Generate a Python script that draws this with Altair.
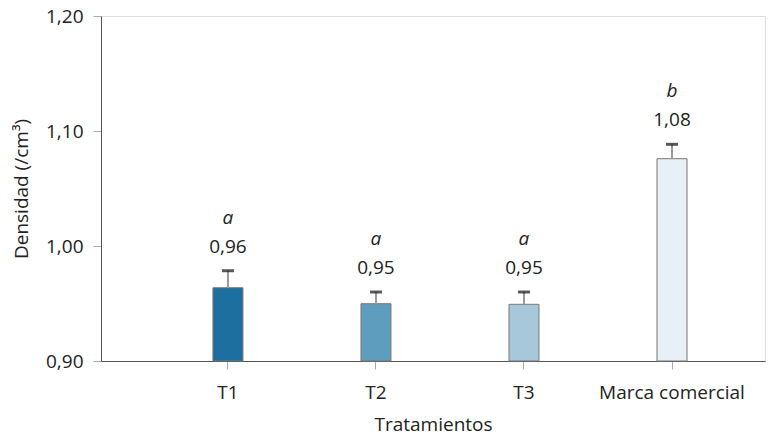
import altair as alt
import pandas as pd

categories = ["T1", "T2", "T3", "Marca comercial"]
means = [0.9637, 0.9498, 0.9493, 1.0759]
errors = [0.0148, 0.0102, 0.0107, 0.0125]
letters = ["a", "a", "a", "b"]
colors = ["#1d6fa0", "#5f9dbf", "#a7c8db", "#e7eff7"]
baseline_value = 0.9

df = pd.DataFrame({"cat": categories, "mean": means, "err": errors, "letter": letters})

FONT = "Open Sans"
FS = 19

x = alt.X("cat:N", sort=categories, title="Tratamientos",
          scale=alt.Scale(paddingInner=0, paddingOuter=0.243, align=0.736),
          axis=alt.Axis(labelAngle=0, labelFontSize=FS, titleFontSize=FS, labelPadding=14,
                        titlePadding=13, tickSize=8, tickColor="#aaaaaa", domainColor="#555555",
                        labelColor="#222222", titleColor="#222222", labelFont=FONT, titleFont=FONT,
                        titleFontWeight="normal"))
y_scale = alt.Scale(domain=[0.9, 1.2], nice=False, zero=False)

base = alt.Chart(df).transform_calculate(
    top="datum.mean + datum.err",
    lab="replace(format(datum.mean, '.2f'), '.', ',')"
)

bars = base.mark_bar(size=30, stroke="#777777", strokeWidth=1).encode(
    x=x,
    y=alt.Y("mean:Q", scale=y_scale, title="Densidad (/cm³)",
            axis=alt.Axis(values=[0.9, 1.0, 1.1, 1.2], grid=False, tickSize=8,
                          tickColor="#aaaaaa", domainColor="#555555",
                          labelExpr="replace(format(datum.value, '.2f'), '.', ',')",
                          labelFontSize=FS, titleFontSize=FS, labelPadding=10, titlePadding=14,
                          labelColor="#222222", titleColor="#222222", labelFont=FONT, titleFont=FONT,
                          titleFontWeight="normal")),
    y2=alt.datum(baseline_value),
    color=alt.Color("cat:N", sort=categories, scale=alt.Scale(domain=categories, range=colors), legend=None),
)

stems = base.mark_rule(color="#999999", strokeWidth=2).encode(
    x=alt.X("cat:N", sort=categories),
    y=alt.Y("mean:Q", scale=y_scale),
    y2="top:Q",
)

caps = base.mark_tick(color="#111111", size=12, thickness=3, orient="horizontal").encode(
    x=alt.X("cat:N", sort=categories),
    y=alt.Y("top:Q", scale=y_scale),
)

vals = base.mark_text(font=FONT, fontSize=FS, color="#222222", dy=-24, baseline="middle").encode(
    x=alt.X("cat:N", sort=categories),
    y=alt.Y("top:Q", scale=y_scale),
    text="lab:N",
)

lets = base.mark_text(font=FONT, fontSize=FS, fontStyle="italic", color="#222222", dy=-53, baseline="middle").encode(
    x=alt.X("cat:N", sort=categories),
    y=alt.Y("top:Q", scale=y_scale),
    text="letter:N",
)

chart = alt.layer(bars, stems, caps, vals, lets).properties(
    width=664, height=345,
    autosize=alt.AutoSizeParams(type="none"),
    padding={"left": 93, "top": 8, "right": 10, "bottom": 76},
).configure_view(stroke=None).configure(background="white")

chart.save("out.html", embed_options={"renderer": "svg", "actions": False})
